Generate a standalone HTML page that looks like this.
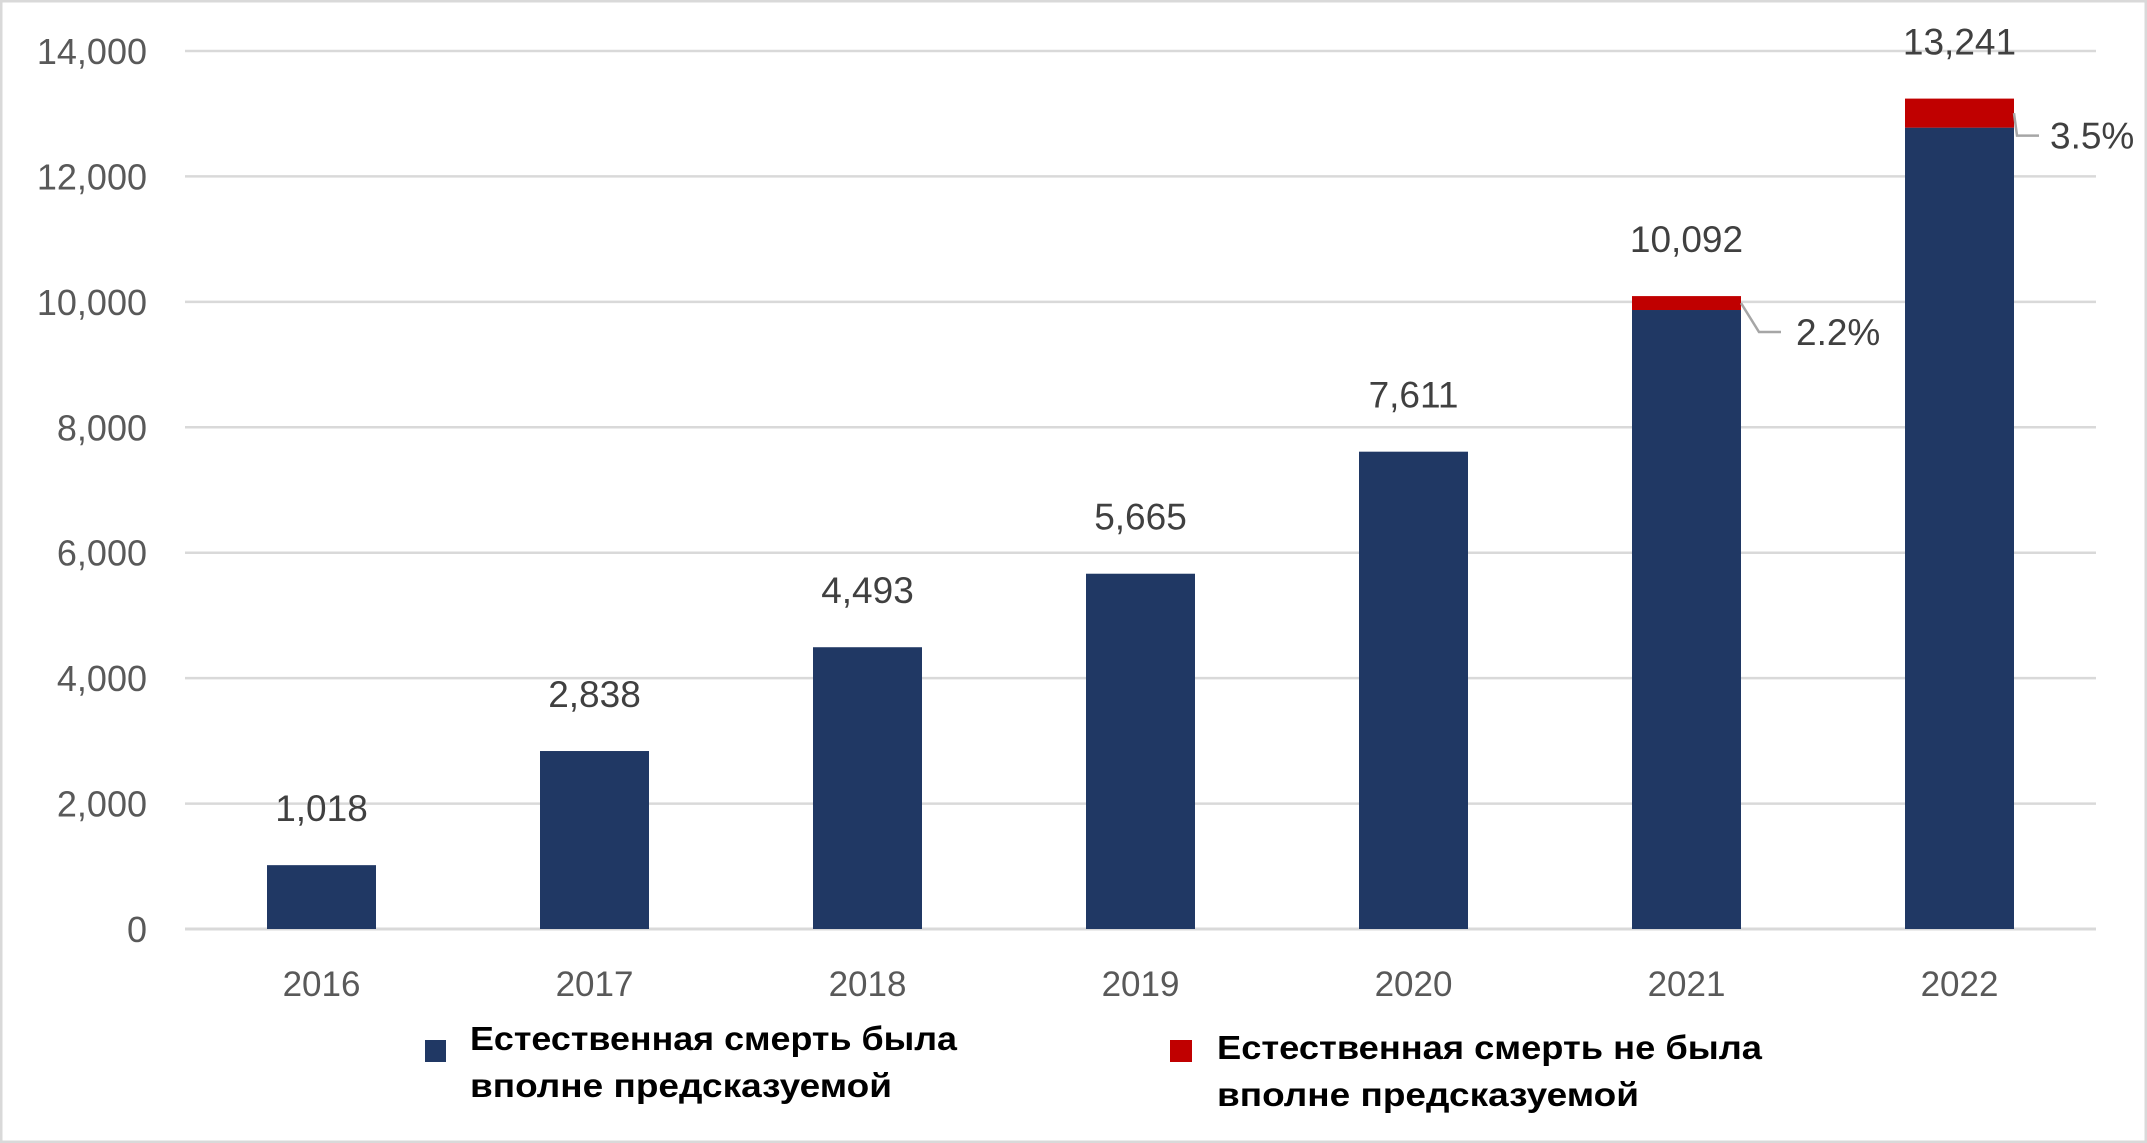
<!DOCTYPE html>
<html><head><meta charset="utf-8"><style>
html,body{margin:0;padding:0;background:#fff}
svg{display:block}
</style></head><body>
<svg id="chart" width="2147" height="1143" xmlns="http://www.w3.org/2000/svg" font-family="'Liberation Sans', sans-serif">
<rect x="1" y="1" width="2145" height="1141" fill="#fff" stroke="#d9d9d9" stroke-width="3"/>
<g id="grid"></g><g id="bars"></g><g id="labels"></g>
<g>
<rect x="425" y="1040" width="21" height="22" fill="#203864"/>
<text font-family="'Liberation Sans Narrow','Liberation Sans',sans-serif" font-weight="bold" font-size="33" fill="#000"><tspan x="470" y="1050" textLength="487" lengthAdjust="spacingAndGlyphs">Естественная смерть была</tspan><tspan x="470" y="1097" textLength="422" lengthAdjust="spacingAndGlyphs">вполне предсказуемой</tspan></text>
<rect x="1170" y="1040" width="22" height="22" fill="#c00000"/>
<text font-family="'Liberation Sans Narrow','Liberation Sans',sans-serif" font-weight="bold" font-size="33" fill="#000"><tspan x="1217" y="1059" textLength="545" lengthAdjust="spacingAndGlyphs">Естественная смерть не была</tspan><tspan x="1217" y="1106" textLength="422" lengthAdjust="spacingAndGlyphs">вполне предсказуемой</tspan></text>
</g>
</svg>
<script>
const years = ["2016","2017","2018","2019","2020","2021","2022"];
const predictable = [1018,2838,4493,5665,7611,9870,12778];
const unpredictable = [0,0,0,0,0,222,463];
const totals = ["1,018","2,838","4,493","5,665","7,611","10,092","13,241"];
const pctLabels = ["","","","","","2.2%","3.5%"];
const yTicks = [0,2000,4000,6000,8000,10000,12000,14000];
const yTickLabels = ["0","2,000","4,000","6,000","8,000","10,000","12,000","14,000"];

const NS="http://www.w3.org/2000/svg";
const L=185,R=2096,Y0=929,Y1=51,YMAX=14000;
const y=v=>Y0-(v/YMAX)*(Y0-Y1);
const step=(R-L)/years.length;
const xc=i=>L+step*(i+0.5);
const BW=109;
function mk(tag,attrs,parent,txt){const e=document.createElementNS(NS,tag);for(const k in attrs)e.setAttribute(k,attrs[k]);if(txt!==undefined)e.textContent=txt;parent.appendChild(e);return e;}
const grid=document.getElementById('grid'),bars=document.getElementById('bars'),labels=document.getElementById('labels');
yTicks.forEach((t,i)=>{
  const ln=mk('line',{x1:L,x2:R,y1:y(t),y2:y(t),stroke:'#d9d9d9','stroke-width':t===0?3:2.5},grid);
  
  
  const tx=mk('text',{x:147,y:y(t)+13,'text-anchor':'end','font-size':36,fill:'#595959'},labels,yTickLabels[i]);
  
  
});
years.forEach((yr,i)=>{
  const x=xc(i);
  const b=mk('rect',{x:x-BW/2,y:y(predictable[i]),width:BW,height:Y0-y(predictable[i]),fill:'#203864'},bars);
  
  
  const top=predictable[i]+unpredictable[i];
  if(unpredictable[i]>0){
    const r=mk('rect',{x:x-BW/2,y:y(top),width:BW,height:y(predictable[i])-y(top),fill:'#c00000'},bars);
    
    
    const mid=(y(top)+y(predictable[i]))/2;
    const ly=y(predictable[i])+ (i===5?22:8);
    const pl=mk('polyline',{points:`${x+BW/2},${mid} ${x+BW/2+(i===5?18:3)},${ly} ${x+BW/2+(i===5?40:25)},${ly}`,fill:'none',stroke:'#a6a6a6','stroke-width':2.5},labels);
    
    
    const pt=mk('text',{x:x+BW/2+(i===5?55:36),y:ly+13,'font-size':37,fill:'#404040'},labels,pctLabels[i]);
    
    
  }
  const vt=mk('text',{x:x,y:y(top)-44,'text-anchor':'middle','font-size':37,fill:'#404040'},labels,totals[i]);
  
  
  const xt=mk('text',{x:x,y:996,'text-anchor':'middle','font-size':35,fill:'#595959'},labels,yr);
  
  
});
</script>
</body></html>
